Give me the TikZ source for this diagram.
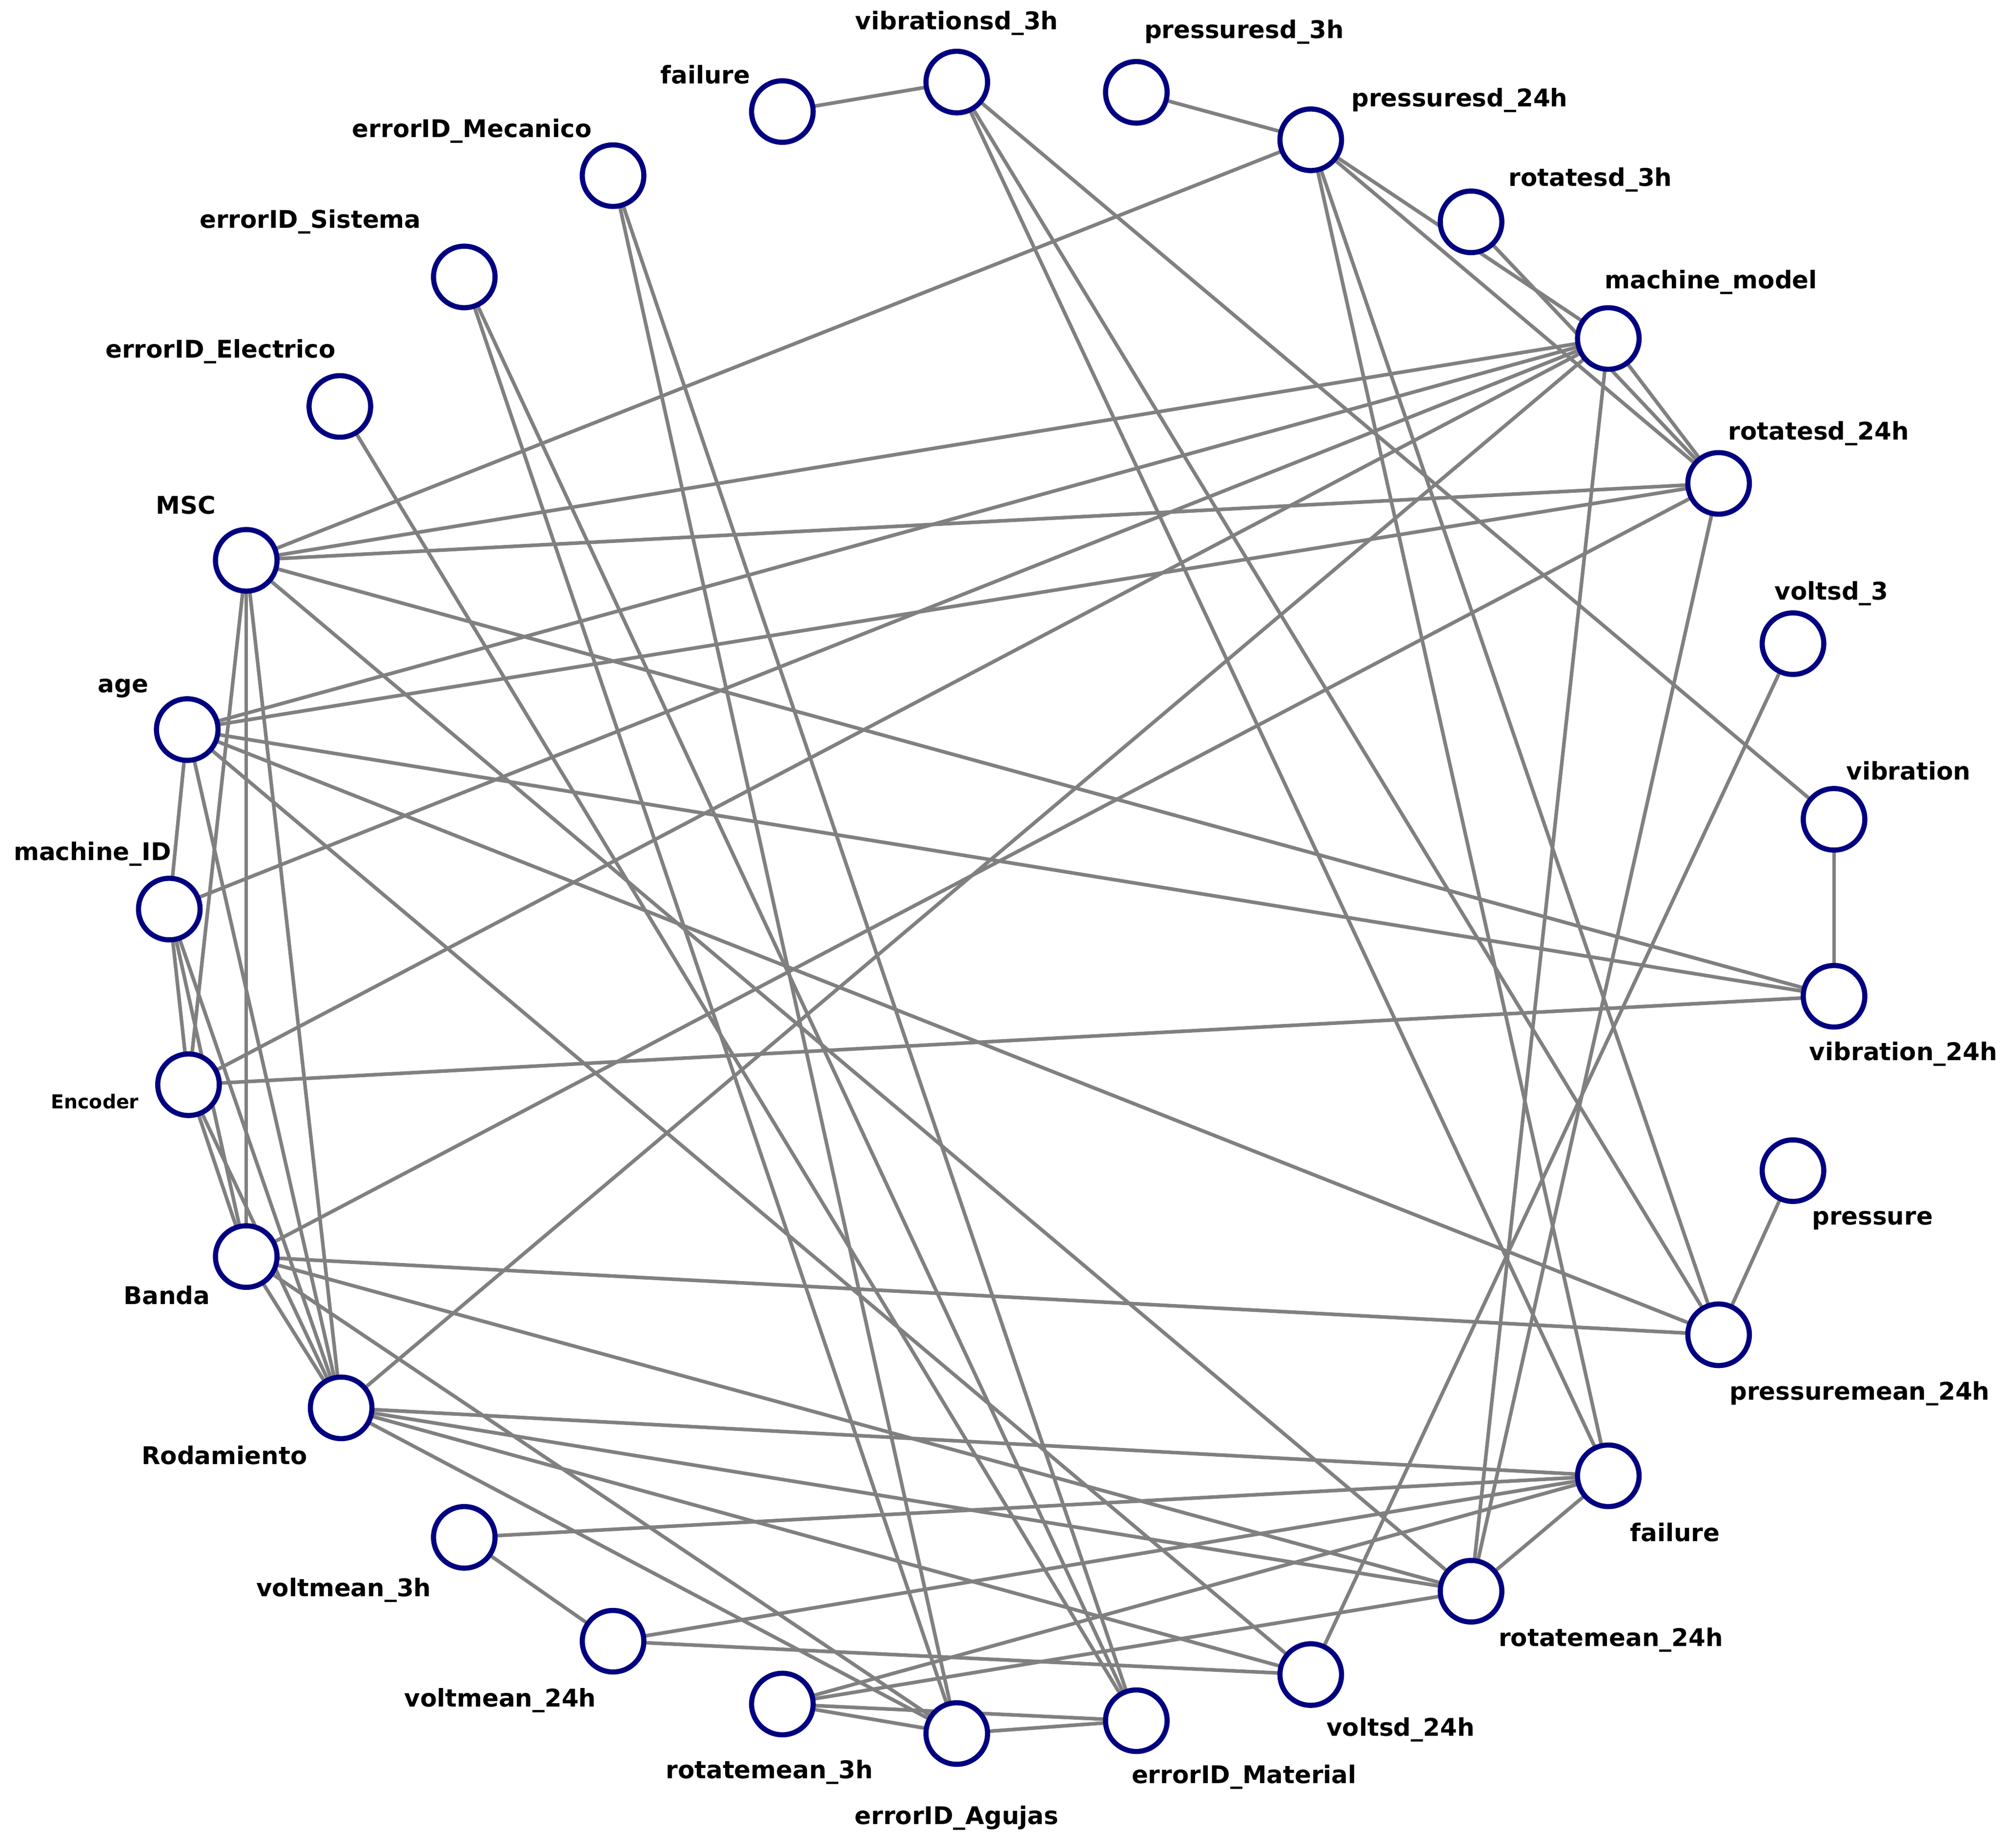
\documentclass[tikz,border=0pt]{standalone}
\usepackage{fontspec}
\setmainfont{DejaVu Sans}
\begin{document}
\begin{tikzpicture}[x=1pt,y=-1pt]
\definecolor{navy}{RGB}{0,0,128}
\tikzset{nd/.style={circle,draw=navy,line width=4pt,fill=white,minimum size=48pt,inner sep=0pt},
  ed/.style={draw=black!50,line width=2.8pt},
  lb/.style={font=\fontsize{19}{22}\selectfont\bfseries},
  lbs/.style={font=\fontsize{15}{18}\selectfont\bfseries}}
\useasboundingbox[fill=white] (0,0) rectangle (1568,1441);
\foreach \n/\x/\y in {vs3/746/64,ft/610/87,ps3/886/72,ps24/1022/109,em/478/137,rs3/1147/173,es/362/216,mm/1254/264,ee/265/317,rs24/1340/377,msc/192/437,v3/1398/502,age/146/569,vib/1430/639,mid/132/709,v24/1430/777,enc/147/846,pr/1398/913,ban/192/980,pm24/1340/1041,rod/266/1098,fb/1254/1151,vm3/362/1199,rm24/1147/1241,vm24/478/1280,vsd24/1022/1306,rm3/610/1329,ag/746/1352,mat/886/1342}
  \coordinate (\n) at (\x,\y);
% labels
\node[lb] (l1) at (746,18) {vibrationsd\_3h};
\node[lb] (l2) at (550,58) {failure};
\node[lb] (l3) at (970,25) {pressuresd\_3h};
\node[lb] (l4) at (1138,78) {pressuresd\_24h};
\node[lb] (l5) at (368,102) {errorID\_Mecanico};
\node[lb] (l6) at (1240,140) {rotatesd\_3h};
\node[lb] (l7) at (242,173) {errorID\_Sistema};
\node[lb] (l8) at (1334,220) {machine\_model};
\node[lb] (l9) at (172,274) {errorID\_Electrico};
\node[lb] (l10) at (1418,338) {rotatesd\_24h};
\node[lb] (l11) at (145,394) {MSC};
\node[lb] (l12) at (1428,463) {voltsd\_3};
\node[lb] (l13) at (96,537) {age};
\node[lb] (l14) at (1488,601) {vibration};
\node[lb] (l15) at (72,666) {machine\_ID};
\node[lb] (l16) at (1484,822) {vibration\_24h};
\node[lbs] (l17) at (74,859) {Encoder};
\node[lb] (l18) at (1460,952) {pressure};
\node[lb] (l19) at (130,1010) {Banda};
\node[lb] (l20) at (1450,1087) {pressuremean\_24h};
\node[lb] (l21) at (175,1135) {Rodamiento};
\node[lb] (l22) at (1306,1195) {failure};
\node[lb] (l23) at (268,1240) {voltmean\_3h};
\node[lb] (l24) at (1256,1279) {rotatemean\_24h};
\node[lb] (l25) at (390,1326) {voltmean\_24h};
\node[lb] (l26) at (1092,1349) {voltsd\_24h};
\node[lb] (l27) at (600,1382) {rotatemean\_3h};
\node[lb] (l28) at (746,1418) {errorID\_Agujas};
\node[lb] (l29) at (970,1386) {errorID\_Material};
% edges
\foreach \a/\b in {ft/vs3,ps3/ps24,vs3/fb,vs3/vib,vs3/pm24,ps24/msc,ps24/mm,ps24/rs24,ps24/pm24,ps24/fb,rs3/rs24,mm/rs24,mm/rm24,rs24/rm24,v3/vsd24,vib/v24,pr/pm24,
msc/mm,msc/rs24,msc/v24,msc/rm24,msc/enc,msc/ban,msc/rod,
age/mm,age/rs24,age/v24,age/pm24,age/vsd24,age/mid,age/rod,
mid/mm,mid/enc,mid/ban,mid/rod,
enc/mm,enc/v24,enc/ban,enc/rod,
ban/rs24,ban/pm24,ban/rm24,ban/ag,ban/rod,
rod/mm,rod/fb,rod/rm24,rod/vsd24,rod/ag,
em/ag,em/mat,es/ag,es/mat,ee/mat,
fb/vm3,fb/vm24,fb/rm3,fb/rm24,vm3/vm24,vm24/vsd24,rm24/rm3,rm3/ag,rm3/mat,ag/mat}
  \draw[ed] (\a) -- (\b);
\foreach \n in {vs3,ft,ps3,ps24,em,rs3,es,mm,ee,rs24,msc,v3,age,vib,mid,v24,enc,pr,ban,pm24,rod,fb,vm3,rm24,vm24,vsd24,rm3,ag,mat}
  \node[nd] (\n-c) at (\n) {};
\end{tikzpicture}
\end{document}
